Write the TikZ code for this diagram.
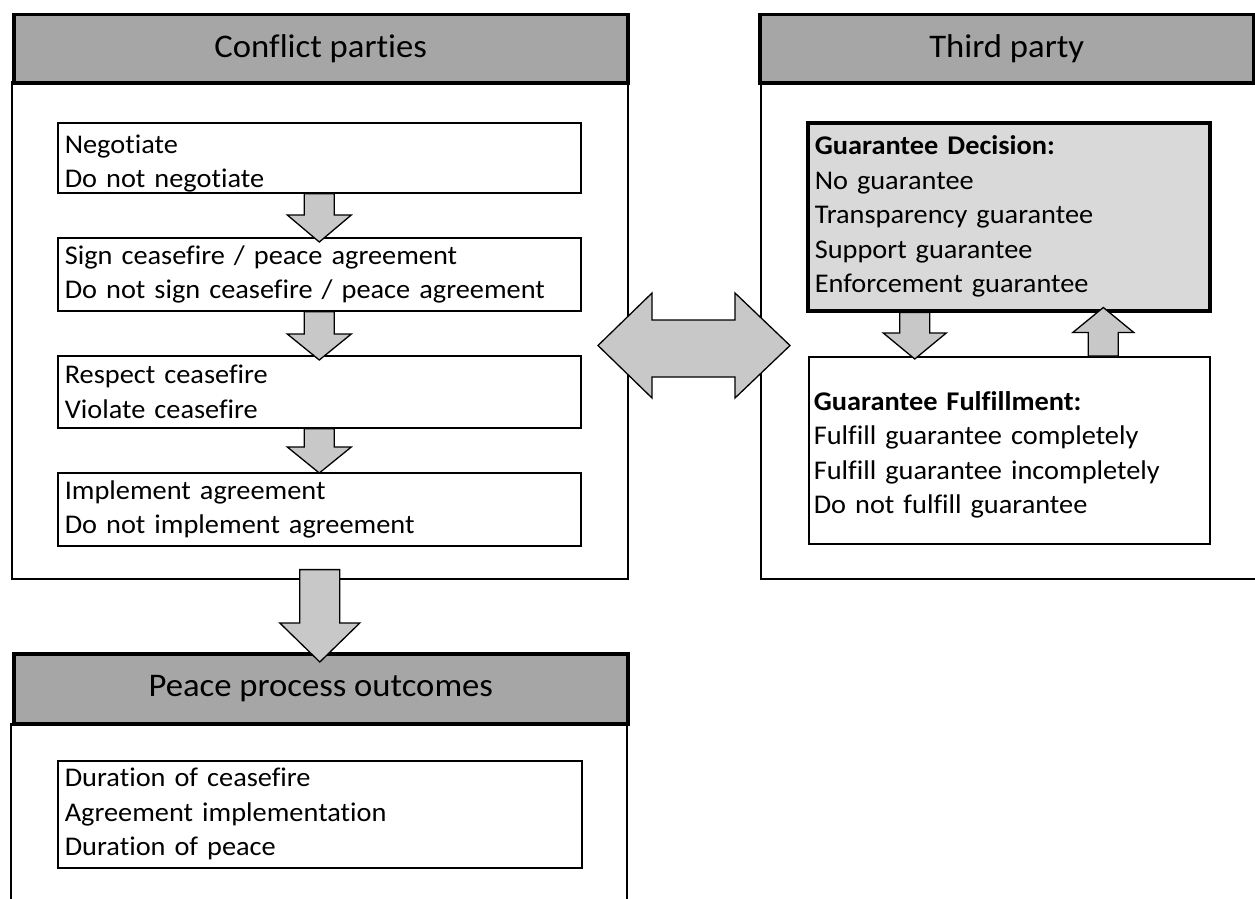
\documentclass[tikz,border=0pt]{standalone}
\usepackage{fontspec}
\setmainfont{Carlito}[Ligatures=NoCommon,FakeStretch=1.05]
\usetikzlibrary{calc}
\definecolor{hdrgray}{HTML}{A6A6A6}
\definecolor{decgray}{HTML}{D9D9D9}
\definecolor{arrgray}{HTML}{C8C8C8}
\newcommand{\blkvert}[6]{%
 \draw[blockarr] let \p1=(#1), \p2=(#2) in
 (\x1-#3,\y1) -- (\x1-#3,\y2-#6+#5) -- (\x1-#4,\y2-#6+#5) -- (\x1,\y2-#6)
 -- (\x1+#4,\y2-#6+#5) -- (\x1+#3,\y2-#6+#5) -- (\x1+#3,\y1) -- cycle;}
\begin{document}
\begin{tikzpicture}[x=1pt,y=-1pt,
 panel/.style={draw=black,line width=1.6pt,inner sep=0pt,anchor=north west},
 header/.style={draw=black,fill=hdrgray,line width=3.5pt,inner sep=0pt,anchor=north west,
   font=\fontsize{33}{40}\selectfont},
 item/.style={draw=black,fill=white,line width=1.6pt,align=left,inner xsep=7pt,inner ysep=0pt,
   anchor=north west,font=\fontsize{27}{34.5}\selectfont},
 blockarr/.style={draw=black,fill=arrgray,line width=1.3pt,line join=miter}]
\useasboundingbox (0,0) rectangle (1255,899);
% panel bodies
\node[panel,minimum width=616pt,minimum height=497pt] (bcp) at (11,81) {};
\node[panel,minimum width=500pt,minimum height=497pt] (btp) at (760,81) {};
\draw[line width=1.6pt] (11,723) -- (11,905);
\draw[line width=1.6pt] (627,723) -- (627,905);
% headers
\node[header,minimum width=614pt,minimum height=68pt] (hcp) at (12,13) {Conflict parties};
\node[header,minimum width=494pt,minimum height=68pt] (htp) at (758,13) {Third party};
\node[header,minimum width=614pt,minimum height=70pt] (hpo) at (12,652) {Peace process outcomes};
% conflict party boxes
\node[item,text width=509pt,minimum height=70pt] (neg) at (57,122) {\rule{0pt}{30pt}Negotiate\\Do not negotiate};
\node[item,text width=509pt,minimum height=73pt] (sign) at (57,237) {Sign ceasefire / peace agreement\\Do not sign ceasefire / peace agreement};
\node[item,text width=509pt,minimum height=72pt] (resp) at (57,355) {Respect ceasefire\\Violate ceasefire};
\node[item,text width=509pt,minimum height=73pt] (impl) at (57,472) {Implement agreement\\Do not implement agreement};
% third party boxes
\node[item,fill=decgray,line width=3.5pt,text width=388pt,minimum height=188pt] (dec) at (806,121)
 {\textbf{Guarantee Decision:}\\No guarantee\\Transparency guarantee\\Support guarantee\\Enforcement guarantee};
\node[item,inner xsep=5pt,text width=391pt,minimum height=187pt] (ful) at (808,356)
 {\rule{0pt}{28pt}\textbf{Guarantee Fulfillment:}\\Fulfill guarantee completely\\Fulfill guarantee incompletely\\Do not fulfill guarantee};
% outcomes box
\node[item,text width=510pt,minimum height=107pt] (out) at (57,760)
 {Duration of ceasefire\\Agreement implementation\\Duration of peace};
% block arrows
\blkvert{neg.south}{sign.north}{15pt}{32pt}{27pt}{5pt}
\blkvert{sign.south}{resp.north}{15pt}{32pt}{26pt}{5pt}
\blkvert{resp.south}{impl.north}{15pt}{32pt}{26pt}{1pt}
\blkvert{$(bcp.south)+(0,-10)$}{hpo.north}{20pt}{40pt}{39pt}{10pt}
\blkvert{$(dec.south)+(-94,0)$}{$(ful.north)+(-94,0)$}{15pt}{31.5pt}{26pt}{3pt}
\blkvert{$(ful.north)+(94,0)$}{$(dec.south)+(94,0)$}{15pt}{30.5pt}{-25pt}{-5pt}
\draw[blockarr] (598,345.5) -- (652,293) -- (652,320) -- (735,320) -- (735,293) -- (790,345.5)
 -- (735,398) -- (735,377) -- (652,377) -- (652,398) -- cycle;
\end{tikzpicture}
\end{document}
